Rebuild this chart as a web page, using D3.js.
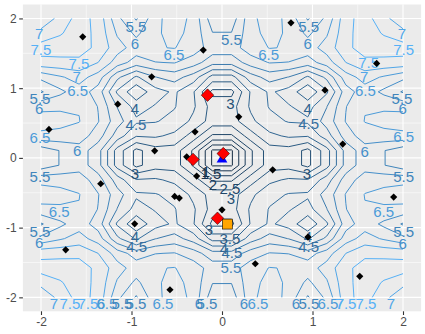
<!DOCTYPE html>
<html><head><meta charset="utf-8">
<script src="https://cdn.jsdelivr.net/npm/d3@7"></script>
<style>
body{margin:0;background:#fff;}
svg{display:block;font-family:"Liberation Sans",Arial,sans-serif;}
</style>
</head><body>
<svg id="chart" width="425" height="334"></svg>
<script>
// ---- grid coordinates (seq(-2, 2, length.out = 20)) ----
const gridX = [-2, -1.7895, -1.5789, -1.3684, -1.1579, -0.9474, -0.7368, -0.5263, -0.3158, -0.1053,
               0.1053, 0.3158, 0.5263, 0.7368, 0.9474, 1.1579, 1.3684, 1.5789, 1.7895, 2];
const gridY = [-2, -1.7895, -1.5789, -1.3684, -1.1579, -0.9474, -0.7368, -0.5263, -0.3158, -0.1053,
               0.1053, 0.3158, 0.5263, 0.7368, 0.9474, 1.1579, 1.3684, 1.5789, 1.7895, 2];
// ---- surface values, one row per gridY (from y = -2 upwards) ----
const zRows = [
 [6.594,7.171,7.708,7.346,6.127,5.447,6.341,6.783,6.350,5.205,5.205,6.350,6.783,6.341,5.447,6.127,7.346,7.708,7.171,6.594],
 [7.171,7.457,7.719,7.369,6.437,5.884,6.422,6.665,6.326,5.519,5.519,6.326,6.665,6.422,5.884,6.437,7.369,7.719,7.457,7.171],
 [7.708,7.719,7.719,7.376,6.709,6.270,6.468,6.520,6.264,5.773,5.773,6.264,6.520,6.468,6.270,6.709,7.376,7.719,7.719,7.708],
 [7.346,7.369,7.376,6.999,6.260,5.769,5.981,6.028,5.738,5.189,5.189,5.738,6.028,5.981,5.769,6.260,6.999,7.376,7.369,7.346],
 [6.127,6.437,6.709,6.260,5.125,4.423,4.985,5.208,4.765,3.800,3.800,4.765,5.208,4.985,4.423,5.125,6.260,6.709,6.437,6.127],
 [5.447,5.884,6.270,5.769,4.423,3.596,4.301,4.580,4.040,2.860,2.860,4.040,4.580,4.301,3.596,4.423,5.769,6.270,5.884,5.447],
 [6.341,6.422,6.468,5.981,4.985,4.301,4.538,4.536,4.077,3.293,3.293,4.077,4.536,4.538,4.301,4.985,5.981,6.468,6.422,6.341],
 [6.783,6.665,6.520,6.028,5.208,4.580,4.536,4.344,3.882,3.274,3.274,3.882,4.344,4.536,4.580,5.208,6.028,6.520,6.665,6.783],
 [6.350,6.326,6.264,5.738,4.765,4.040,4.077,3.882,3.273,2.424,2.424,3.273,3.882,4.077,4.040,4.765,5.738,6.264,6.326,6.350],
 [5.205,5.519,5.773,5.189,3.800,2.860,3.293,3.274,2.424,0.934,0.934,2.424,3.274,3.293,2.860,3.800,5.189,5.773,5.519,5.205],
 [5.205,5.519,5.773,5.189,3.800,2.860,3.293,3.274,2.424,0.934,0.934,2.424,3.274,3.293,2.860,3.800,5.189,5.773,5.519,5.205],
 [6.350,6.326,6.264,5.738,4.765,4.040,4.077,3.882,3.273,2.424,2.424,3.273,3.882,4.077,4.040,4.765,5.738,6.264,6.326,6.350],
 [6.783,6.665,6.520,6.028,5.208,4.580,4.536,4.344,3.882,3.274,3.274,3.882,4.344,4.536,4.580,5.208,6.028,6.520,6.665,6.783],
 [6.341,6.422,6.468,5.981,4.985,4.301,4.538,4.536,4.077,3.293,3.293,4.077,4.536,4.538,4.301,4.985,5.981,6.468,6.422,6.341],
 [5.447,5.884,6.270,5.769,4.423,3.596,4.301,4.580,4.040,2.860,2.860,4.040,4.580,4.301,3.596,4.423,5.769,6.270,5.884,5.447],
 [6.127,6.437,6.709,6.260,5.125,4.423,4.985,5.208,4.765,3.800,3.800,4.765,5.208,4.985,4.423,5.125,6.260,6.709,6.437,6.127],
 [7.346,7.369,7.376,6.999,6.260,5.769,5.981,6.028,5.738,5.189,5.189,5.738,6.028,5.981,5.769,6.260,6.999,7.376,7.369,7.346],
 [7.708,7.719,7.719,7.376,6.709,6.270,6.468,6.520,6.264,5.773,5.773,6.264,6.520,6.468,6.270,6.709,7.376,7.719,7.719,7.708],
 [7.171,7.457,7.719,7.369,6.437,5.884,6.422,6.665,6.326,5.519,5.519,6.326,6.665,6.422,5.884,6.437,7.369,7.719,7.457,7.171],
 [6.594,7.171,7.708,7.346,6.127,5.447,6.341,6.783,6.350,5.205,5.205,6.350,6.783,6.341,5.447,6.127,7.346,7.708,7.171,6.594]
];
const levels = [1, 1.5, 2, 2.5, 3, 3.5, 4, 4.5, 5, 5.5, 6, 6.5, 7, 7.5];

// ---- contour labels (text, x, y in data units) ----
const labelText = ["7","7","7.5","7.5","7.5","7.5","7","7","6.5","6.5","5.5","5.5","6","6","4","4","4.5","4.5",
  "6.5","6.5","6","6","5.5","5.5","6","6","6.5","6.5","5.5","3",
  "3","3","5.5","5.5","1","1.5","2","2.5","3",
  "6.5","6.5","5.5","5.5","6","6","4","4","4.5","4.5","3","3.5","4","4.5","5.5",
  "7","7.5","7.5","6","6.5","5.5","5.5","6.5","6","5.5",
  "6","6.5","6","5.5","6.5","7","7.5","7.5","7"];
const labelX = [-2.019,1.989,-2.002,2.008,-1.580,1.621,-1.606,1.572,-1.595,1.584,-2.011,1.989,-2.019,1.997,-0.961,0.947,-0.950,0.958,
  -2.011,2.008,-1.599,1.577,-0.950,0.958,-0.961,0.947,-0.530,0.516,0.103,0.092,
  -0.961,0.939,-2.011,2.008,-0.177,-0.122,-0.099,0.088,0.099,
  -1.798,1.787,-2.011,2.008,-2.019,1.997,-0.961,0.950,-0.943,0.958,-0.144,0.088,0.022,0.110,0.099,
  -1.856,-1.680,-1.481,-1.337,-1.271,-1.105,-0.950,-0.652,-0.254,-0.166,
  0.243,0.398,0.818,0.961,1.171,1.304,1.370,1.591,1.867];
const labelY = [1.787,1.787,1.557,1.557,1.357,1.371,1.164,1.164,0.964,0.964,0.845,0.845,0.702,0.711,0.711,0.711,0.472,0.486,
  0.290,0.304,0.103,0.089,1.882,1.882,1.643,1.643,1.476,1.476,1.691,0.783,
  -0.227,-0.227,-0.264,-0.264,-0.202,-0.231,-0.389,-0.446,-0.589,
  -0.776,-0.776,-1.062,-1.062,-1.220,-1.230,-1.134,-1.134,-1.278,-1.278,-1.034,-1.163,-1.307,-1.364,-1.579,
  -2.091,-2.091,-2.091,-2.091,-2.091,-2.091,-2.091,-2.091,-2.091,-2.091,
  -2.091,-2.091,-2.091,-2.091,-2.091,-2.091,-2.091,-2.091,-2.091];

// ---- sample points ----
const sampleX = [-1.539,-0.777,-0.207,-1.152,-1.912,-0.298,-0.744,-0.390,0.762,1.709,1.138,0.185,1.334,
  -1.340,-0.280,-0.523,-0.472,-0.965,-1.727,-0.575,0.560,1.897,0.000,0.950,0.368,1.522];
const sampleY = [1.736,1.163,1.546,0.771,0.409,0.374,0.102,0.016,1.937,1.355,0.972,0.589,0.198,
  -0.371,-0.261,-0.552,-0.576,-0.945,-1.318,-1.891,-0.171,-0.562,-0.744,-1.135,-1.518,-1.699];
const redX = [-0.160,-0.320,0.014,-0.050];
const redY = [0.900,-0.022,0.062,-0.866];
const orangeX = [0.059], orangeY = [-0.949];
const blueX = [0.000], blueY = [-0.010];

const xTicks = [-2,-1,0,1,2], yTicks = [-2,-1,0,1,2];
const minorTicks = [-1.5,-0.5,0.5,1.5];

// ---- layout ----
const svg = d3.select("#chart");
const P = {left: 22.9, right: 421.1, top: 4.5, bottom: 311.3};
const x = d3.scaleLinear().domain([-2.2, 2.2]).range([P.left, P.right]);
const y = d3.scaleLinear().domain([-2.2, 2.2]).range([P.bottom, P.top]);
const color = d3.scaleLinear().domain([1, 7.5]).range(["#132B43", "#56B1F7"]).interpolate(d3.interpolateLab);

svg.append("rect").attr("x", P.left).attr("y", P.top)
  .attr("width", P.right - P.left).attr("height", P.bottom - P.top).attr("fill", "#EBEBEB");

const grid = svg.append("g");
minorTicks.forEach(v => {
  grid.append("line").attr("x1", x(v)).attr("x2", x(v)).attr("y1", P.top).attr("y2", P.bottom)
    .attr("stroke", "#fff").attr("stroke-width", 0.55);
  grid.append("line").attr("y1", y(v)).attr("y2", y(v)).attr("x1", P.left).attr("x2", P.right)
    .attr("stroke", "#fff").attr("stroke-width", 0.55);
});
xTicks.forEach(v => grid.append("line").attr("x1", x(v)).attr("x2", x(v)).attr("y1", P.top).attr("y2", P.bottom)
    .attr("stroke", "#fff").attr("stroke-width", 1.1));
yTicks.forEach(v => grid.append("line").attr("y1", y(v)).attr("y2", y(v)).attr("x1", P.left).attr("x2", P.right)
    .attr("stroke", "#fff").attr("stroke-width", 1.1));

// ---- contours ----
const nx = gridX.length, ny = gridY.length;
const values = [];
zRows.forEach(row => row.forEach(v => values.push(v)));
const ix = d3.scaleLinear().domain([0.5, nx - 0.5]).range([gridX[0], gridX[nx - 1]]);
const iy = d3.scaleLinear().domain([0.5, ny - 0.5]).range([gridY[0], gridY[ny - 1]]);
const sets = d3.contours().size([nx, ny]).thresholds(levels)(values);
const eps = 1e-6;
const inside = p => p[0] >= 0.5 - eps && p[0] <= nx - 0.5 + eps && p[1] >= 0.5 - eps && p[1] <= ny - 0.5 + eps;
const pieces = [];
sets.forEach(set => {
  set.coordinates.forEach(poly => poly.forEach(ring => {
    const pts = ring.slice(0, -1);
    const s = pts.findIndex(p => !inside(p));
    if (s < 0) { pieces.push({level: set.value, pts, closed: true}); return; }
    let run = [];
    for (let k = 1; k <= pts.length; k++) {
      const p = pts[(s + k) % pts.length];
      if (inside(p)) run.push(p);
      else { if (run.length > 1) pieces.push({level: set.value, pts: run, closed: false}); run = []; }
    }
  }));
});
const lineOpen = d3.line().x(p => x(ix(p[0]))).y(p => y(iy(p[1])));
const lineClosed = d3.line().x(p => x(ix(p[0]))).y(p => y(iy(p[1]))).curve(d3.curveLinearClosed);
svg.append("g").selectAll("path").data(pieces).join("path")
  .attr("d", d => d.closed ? lineClosed(d.pts) : lineOpen(d.pts))
  .attr("fill", "none").attr("stroke", d => color(d.level)).attr("stroke-width", 1);

// ---- contour labels ----
svg.append("g").selectAll("text").data(labelText).join("text")
  .attr("x", (d, i) => x(labelX[i])).attr("y", (d, i) => y(labelY[i]) + 5.4)
  .attr("text-anchor", "middle").attr("font-size", 15)
  .attr("fill", d => color(+d)).text(d => d);

// ---- points ----
const pts = svg.append("g");
const diamond = r => `M0,${-r}L${r},0L0,${r}L${-r},0Z`;
pts.selectAll(".blk").data(sampleX).join("path").attr("class", "blk")
  .attr("transform", (d, i) => `translate(${x(d)},${y(sampleY[i])})`)
  .attr("d", diamond(3.6)).attr("fill", "#000");
pts.selectAll(".blu").data(blueX).join("path").attr("class", "blu")
  .attr("transform", (d, i) => `translate(${x(d)},${y(blueY[i])})`)
  .attr("d", "M0,-5.2L5.4,4L-5.4,4Z").attr("fill", "#0000FF");
pts.selectAll(".red").data(redX).join("path").attr("class", "red")
  .attr("transform", (d, i) => `translate(${x(d)},${y(redY[i])})`)
  .attr("d", diamond(6.3)).attr("fill", "#FF0000").attr("stroke", "#000").attr("stroke-width", 0.5);
pts.selectAll(".org").data(orangeX).join("rect").attr("class", "org")
  .attr("x", (d, i) => x(d) - 5).attr("y", (d, i) => y(orangeY[i]) - 5)
  .attr("width", 10).attr("height", 10)
  .attr("fill", "#FFA500").attr("stroke", "#000").attr("stroke-width", 0.6);

// ---- axes ----
const ax = svg.append("g").attr("transform", `translate(0,${P.bottom})`)
  .call(d3.axisBottom(x).tickValues(xTicks).tickSize(3.7).tickPadding(2.5).tickFormat(d3.format("d")));
const ay = svg.append("g").attr("transform", `translate(${P.left},0)`)
  .call(d3.axisLeft(y).tickValues(yTicks).tickSize(3.7).tickPadding(2.5).tickFormat(d3.format("d")));
[ax, ay].forEach(a => {
  a.select(".domain").remove();
  a.selectAll(".tick line").attr("stroke", "#333333").attr("stroke-width", 1.1);
  a.selectAll(".tick text").attr("fill", "#4D4D4D").attr("font-size", 12)
    .attr("font-family", "'Liberation Sans', Arial, sans-serif");
});
ax.selectAll(".tick text").text(d => d < 0 ? "-" + Math.abs(d) : d);
ay.selectAll(".tick text").text(d => d < 0 ? "-" + Math.abs(d) : d);
</script>
</body></html>
